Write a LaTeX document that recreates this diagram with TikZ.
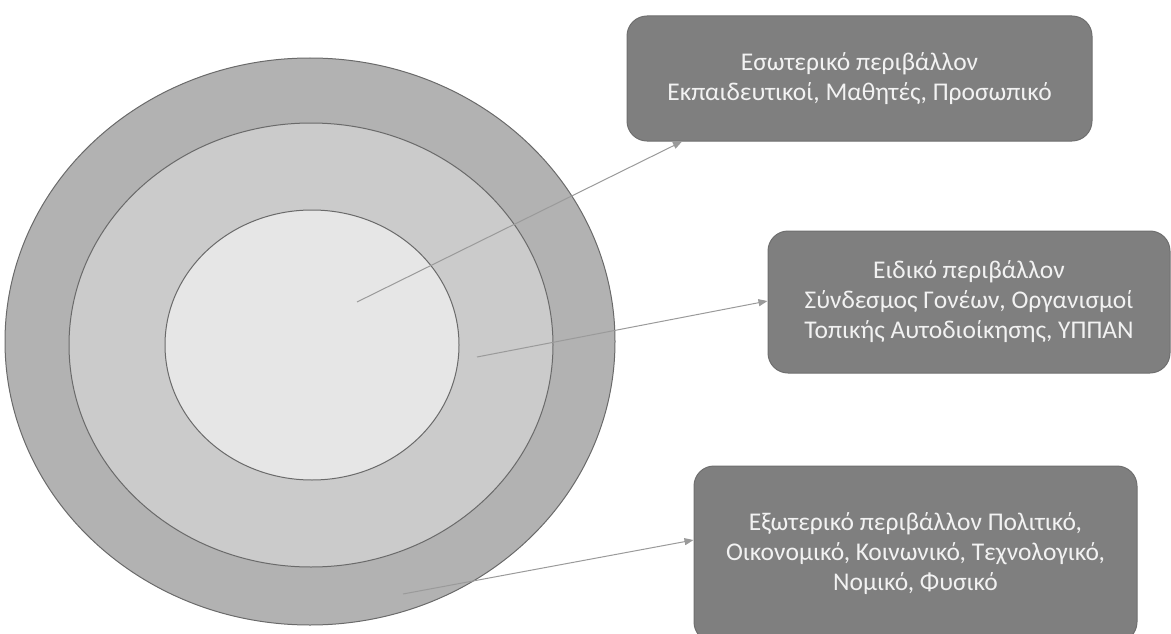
\documentclass[tikz,border=0pt]{standalone}
\usepackage{fontspec}
\setmainfont{Carlito}
\usetikzlibrary{arrows.meta}
\definecolor{ringout}{HTML}{B2B2B2}
\definecolor{ringmid}{HTML}{CBCBCB}
\definecolor{ringin}{HTML}{E6E6E6}
\definecolor{ringline}{HTML}{6A6A6A}
\definecolor{boxfill}{HTML}{7F7F7F}
\definecolor{boxline}{HTML}{6F6F6F}
\definecolor{boxtxt}{HTML}{F2F2F2}
\definecolor{arrowc}{HTML}{9A9A9A}
\tikzset{
  ring/.style={draw=ringline, line width=1pt},
  infobox/.style={rectangle, rounded corners=20pt, fill=boxfill, draw=boxline, line width=1pt, inner sep=0pt,
    text=boxtxt, align=center, font=\fontsize{25.5}{30}\selectfont},
  pointer/.style={draw=arrowc, line width=1pt, -{Triangle[length=9pt,width=7pt]}}
}
\begin{document}
\begin{tikzpicture}[x=1pt,y=-1pt]
\useasboundingbox (0,0) rectangle (1171,634);
% rings
\draw[ring, fill=ringout] (310,341.5) ellipse [x radius=305, y radius=283.5];
\draw[ring, fill=ringmid] (311,345) ellipse [x radius=242, y radius=222];
\draw[ring, fill=ringin] (312,345) ellipse [x radius=147, y radius=135];
% boxes
\node[infobox, minimum width=465pt, minimum height=125pt] (b1) at (859.5,78.5)
  {Εσωτερικό περιβάλλον\\Εκπαιδευτικοί, Μαθητές, Προσωπικό};
\node[infobox, minimum width=402pt, minimum height=142pt] (b2) at (969,302)
  {Ειδικό περιβάλλον\\Σύνδεσμος Γονέων, Οργανισμοί\\Τοπικής Αυτοδιοίκησης, ΥΠΠΑΝ};
\node[infobox, minimum width=443pt, minimum height=176pt] (b3) at (915.5,554)
  {Εξωτερικό περιβάλλον Πολιτικό,\\Οικονομικό, Κοινωνικό, Τεχνολογικό,\\Νομικό, Φυσικό};
% pointer start points and targets
\coordinate (s1) at (357,302);
\coordinate (s2) at (477,357);
\coordinate (s3) at (403,594);
\coordinate (e1) at ([xshift=-177.5pt]b1.south);
\coordinate (e2) at ([yshift=1pt]b2.west);
\coordinate (e3) at ([yshift=14pt]b3.west);
\draw[pointer] (s1) -- (e1);
\draw[pointer] (s2) -- (e2);
\draw[pointer] (s3) -- (e3);
\end{tikzpicture}
\end{document}
